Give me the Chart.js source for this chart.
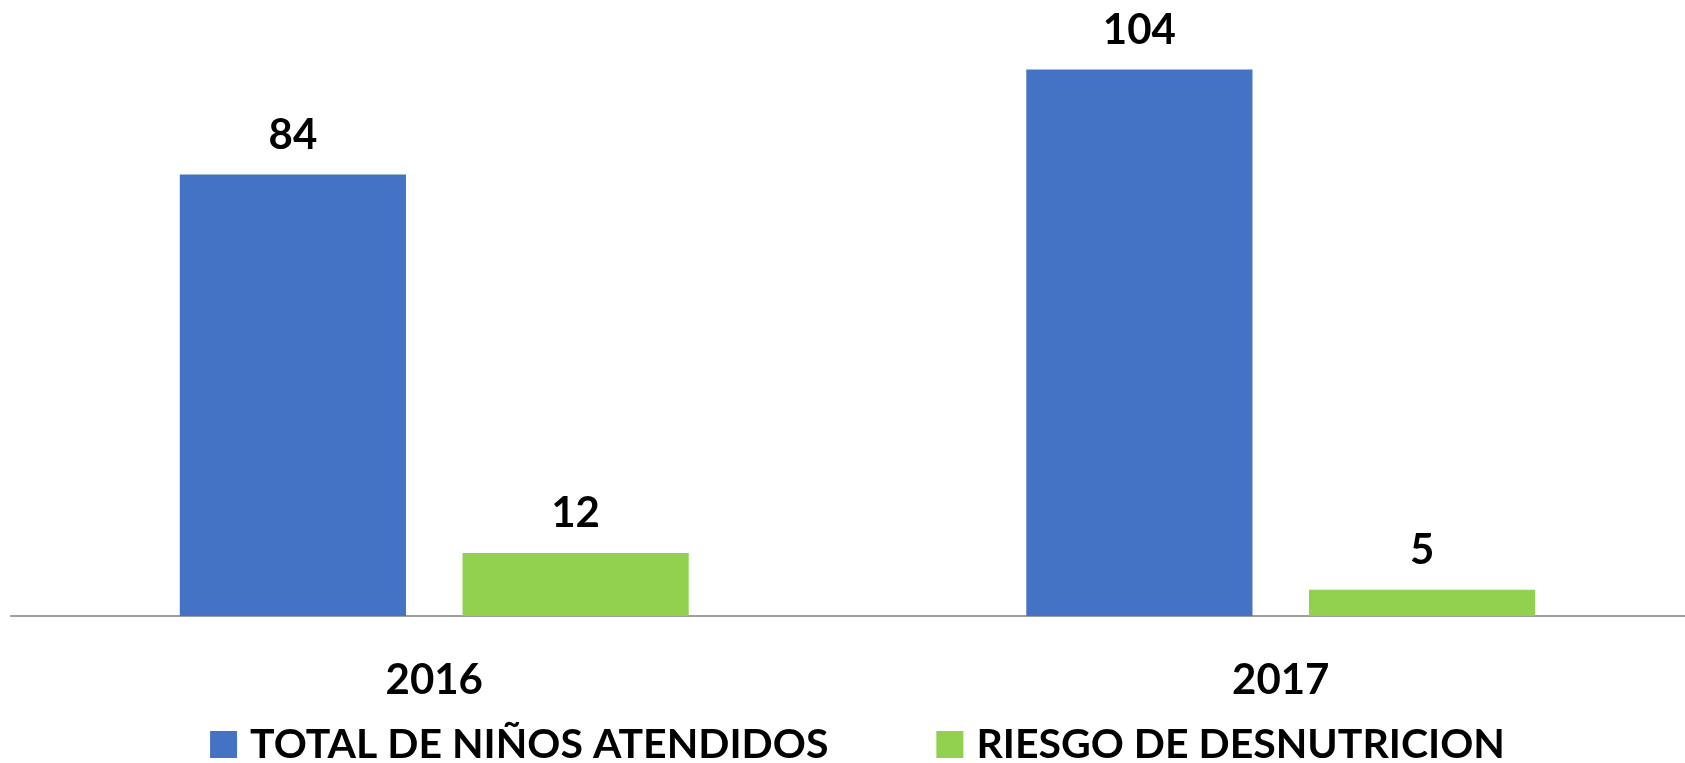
<!DOCTYPE html>
<html>
<head>
<meta charset="utf-8">
<script src="https://cdn.jsdelivr.net/npm/chart.js@4.4.0/dist/chart.umd.min.js"></script>
<style>
  html, body { margin: 0; padding: 0; background: #fff; overflow: hidden; }
  /* plot runs slightly past the right edge, as in the original */
  #wrap { width: 1704px; height: 763px; }
</style>
</head>
<body>
<div id="wrap"><canvas id="barChart"></canvas></div>
<script>
// Data
const years = ['2016', '2017'];
const totalAtendidos = [84, 104];
const riesgoDesnutricion = [12, 5];
const seriesNames = ['TOTAL DE NIÑOS ATENDIDOS', 'RIESGO DE DESNUTRICION'];

const fontFamily = 'Lato, "Open Sans", sans-serif';

// Draw value labels above each bar
const valueLabels = {
    id: 'valueLabels',
    afterDatasetsDraw(chart) {
        const ctx = chart.ctx;
        ctx.save();
        ctx.font = 'bold 42px ' + fontFamily;
        ctx.fillStyle = '#000';
        ctx.textAlign = 'center';
        ctx.textBaseline = 'bottom';
        chart.data.datasets.forEach((ds, i) => {
            chart.getDatasetMeta(i).data.forEach((bar, j) => {
                ctx.fillText(ds.data[j], bar.x, bar.y - 18);
            });
        });
        ctx.restore();
    }
};

// Legend along the bottom, centred under the plot
const bottomLegend = {
    id: 'bottomLegend',
    afterDraw(chart) {
        const ctx = chart.ctx;
        const box = 27, gap = 13, itemGap = 108;
        const baseline = 758;
        ctx.save();
        ctx.font = 'bold 41px ' + fontFamily;
        ctx.textBaseline = 'alphabetic';
        const items = chart.data.datasets.map(ds => ({
            text: ds.label,
            color: ds.backgroundColor,
            w: box + gap + ctx.measureText(ds.label).width,
        }));
        const total = items.reduce((s, it) => s + it.w, 0) + itemGap * (items.length - 1);
        const center = (chart.chartArea.left + chart.chartArea.right) / 2;
        let x = center - total / 2;
        items.forEach(it => {
            ctx.fillStyle = it.color;
            ctx.fillRect(x, baseline - box, box, box);
            ctx.fillStyle = '#000';
            ctx.fillText(it.text, x + box + gap, baseline);
            x += it.w + itemGap;
        });
        ctx.restore();
    }
};

let barCtx = document.getElementById('barChart').getContext('2d');
let barChart = new Chart(barCtx, {
    type: 'bar',
    data: {
        labels: years,
        datasets: [{
            label: seriesNames[0],
            data: totalAtendidos,
            backgroundColor: '#4472C4',
        }, {
            label: seriesNames[1],
            data: riesgoDesnutricion,
            backgroundColor: '#92D050',
        }],
    },
    options: {
        responsive: true,
        maintainAspectRatio: false,
        animation: false,
        layout: {
            padding: { top: 38, left: 11, right: 0, bottom: 0 },
        },
        datasets: {
            bar: {
                categoryPercentage: 0.668,
                barPercentage: 0.8,
            },
        },
        scales: {
            x: {
                grid: { display: false },
                border: { display: true, color: '#a0a0a0', width: 2 },
                ticks: {
                    color: '#000',
                    padding: 31,
                    font: { family: fontFamily, size: 42, weight: 'bold' },
                },
                afterFit(scale) {
                    scale.height = 147;
                },
            },
            y: {
                display: false,
                beginAtZero: true,
                min: 0,
                max: 110,
            },
        },
        plugins: {
            legend: { display: false },
            tooltip: { enabled: false },
        },
    },
    plugins: [valueLabels, bottomLegend],
});
</script>
</body>
</html>
